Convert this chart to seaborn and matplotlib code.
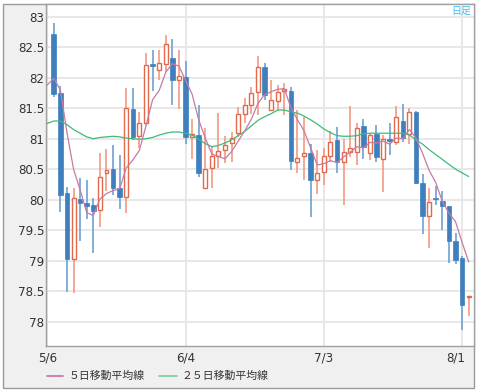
import numpy as np
import pandas as pd
import matplotlib
matplotlib.use("Agg")
import matplotlib.pyplot as plt
import matplotlib.transforms as mtransforms
import seaborn as sns
from matplotlib.patches import Rectangle
from matplotlib.lines import Line2D

sns.set_style("white")
plt.rcParams['font.family'] = ['DejaVu Sans']

# ---- data (daily OHLC, 5/7 .. 8/2) ----
opens = [82.72, 81.75, 80.11, 79.02, 80.01, 79.95, 79.91, 79.83, 80.44, 80.51,
         80.20, 80.05, 81.49, 81.04, 81.25, 82.22, 82.13, 82.22, 82.33, 81.97,
         82.01, 81.02, 81.06, 80.20, 80.52, 80.71, 80.81, 80.93, 81.10, 81.41,
         81.56, 81.76, 82.18, 81.47, 81.62, 81.78, 81.79, 80.61, 80.71, 80.76,
         80.33, 80.46, 80.71, 80.98, 80.62, 80.78, 80.78, 81.21, 80.76, 81.08,
         80.67, 80.99, 80.94, 81.29, 81.08, 81.43, 80.28, 79.73, 80.03, 79.98,
         79.90, 79.32, 79.05, 78.40]
highs = [82.90, 81.87, 80.21, 80.19, 80.35, 80.32, 80.02, 80.76, 80.83, 80.90,
         80.73, 81.83, 81.83, 81.44, 82.40, 82.46, 82.45, 82.70, 82.64, 82.46,
         82.28, 81.33, 81.56, 81.17, 80.88, 81.42, 81.04, 81.11, 81.52, 81.66,
         81.84, 82.35, 82.24, 81.96, 81.88, 81.91, 81.84, 81.47, 81.36, 80.91,
         80.81, 80.85, 81.12, 81.20, 81.00, 81.54, 81.25, 81.32, 81.10, 81.22,
         81.06, 81.25, 81.54, 81.57, 81.50, 81.45, 80.42, 80.19, 80.22, 80.14,
         79.90, 79.45, 79.07, 78.42]
lows = [81.69, 79.80, 78.49, 78.47, 79.33, 79.69, 79.12, 79.56, 80.15, 80.08,
        79.84, 79.78, 80.98, 80.85, 81.22, 81.78, 81.97, 82.10, 81.55, 81.48,
        80.91, 80.66, 80.38, 80.20, 80.20, 80.52, 80.60, 80.61, 81.02, 81.26,
        81.40, 81.39, 81.63, 81.45, 81.47, 81.39, 80.49, 80.43, 80.32, 79.72,
        80.10, 80.24, 80.62, 80.44, 79.91, 80.70, 80.57, 80.66, 80.65, 80.61,
        80.13, 80.73, 80.89, 80.94, 80.91, 80.26, 79.44, 79.21, 79.91, 79.51,
        78.96, 78.94, 77.87, 78.09]
closes = [81.74, 80.08, 79.02, 80.02, 79.95, 79.90, 79.81, 80.38, 80.48, 80.20,
          80.05, 81.51, 81.03, 81.26, 82.21, 82.19, 82.24, 82.55, 81.97, 82.02,
          81.03, 81.07, 80.44, 80.51, 80.72, 80.80, 80.89, 81.01, 81.40, 81.55,
          81.75, 82.18, 81.72, 81.63, 81.77, 81.81, 80.64, 80.69, 80.76, 80.33,
          80.43, 80.72, 80.94, 80.62, 80.78, 80.84, 81.17, 80.86, 81.06, 80.70,
          80.99, 80.96, 81.35, 81.01, 81.43, 80.28, 79.73, 79.96, 80.01, 79.89,
          79.32, 79.01, 78.28, 78.42]

# moving averages (first value = day before first candle)
ma5 = [81.88, 81.99, 81.80, 81.10, 80.50, 80.16, 79.79, 79.74, 80.01, 80.10,
       80.15, 80.18, 80.52, 80.65, 80.81, 81.21, 81.64, 81.79, 82.09, 82.23,
       82.19, 81.96, 81.73, 81.31, 81.01, 80.75, 80.71, 80.67, 80.79, 80.96,
       81.13, 81.32, 81.58, 81.72, 81.77, 81.81, 81.82, 81.51, 81.31, 81.13,
       80.85, 80.57, 80.59, 80.64, 80.61, 80.70, 80.78, 80.87, 80.85, 80.94,
       80.93, 80.96, 80.91, 81.01, 81.00, 81.15, 81.01, 80.76, 80.48, 80.28,
       79.97, 79.78, 79.64, 79.30, 78.98]
ma25 = [81.25, 81.29, 81.29, 81.23, 81.15, 81.09, 81.03, 81.00, 81.02, 81.03,
        81.04, 81.03, 81.01, 81.00, 80.99, 81.00, 81.02, 81.06, 81.09, 81.11,
        81.11, 81.09, 81.06, 80.99, 80.92, 80.87, 80.89, 80.93, 80.98, 81.05,
        81.12, 81.21, 81.30, 81.36, 81.41, 81.47, 81.47, 81.44, 81.42, 81.37,
        81.31, 81.24, 81.16, 81.10, 81.05, 81.04, 81.04, 81.05, 81.08, 81.09,
        81.09, 81.09, 81.09, 81.09, 81.09, 81.06, 80.98, 80.91, 80.82, 80.74,
        80.66, 80.58, 80.50, 80.44, 80.38]

tick_labels = ["5/6", "6/4", "7/3", "8/1"]
tick_days = [-1, 20, 41, 62]
y_ticks = [78, 78.5, 79, 79.5, 80, 80.5, 81, 81.5, 82, 82.5, 83]
legend_labels = ["５日移動平均線", "２５日移動平均線"]
badge = "日足"

# ---- figure ----
W, H = 478, 391
fig = plt.figure(figsize=(W / 100, H / 100), dpi=100)
fig.patch.set_facecolor("white")
fig.patches.append(Rectangle((3 / W, 1 - 388 / H), (473.5 - 3) / W, (388 - 4) / H,
                             transform=fig.transFigure, facecolor="#f0f0f0",
                             edgecolor="#9a9a9a", lw=1.0, zorder=-10))

ax = fig.add_axes([45.7 / W, 1 - 345.7 / H, (473.5 - 45.7) / W, (345.7 - 4) / H])
ax.set_zorder(1)
ax.set_facecolor("white")

o = np.array(opens); h = np.array(highs); l = np.array(lows); c = np.array(closes)
x = np.arange(len(c))
up = c >= o
dn = ~up

blue = "#3f7fbd"
blue_wick = "#78a8d4"
red = "#e26a4c"
red_wick = "#f2a18e"

ax.vlines(x[up], l[up], h[up], color=red_wick, lw=1.3, zorder=2)
ax.vlines(x[dn], l[dn], h[dn], color=blue_wick, lw=1.3, zorder=2)
ax.bar(x[up], np.maximum(c[up] - o[up], 0.015), bottom=o[up], width=0.6,
       facecolor="white", edgecolor=red, lw=1.0, zorder=3)
ax.bar(x[dn], np.maximum(o[dn] - c[dn], 0.015), bottom=c[dn], width=0.7,
       facecolor=blue, edgecolor=blue, lw=0.5, zorder=3)

ma_df = pd.DataFrame({"day": np.arange(len(ma5)) - 1, "ma5": ma5, "ma25": ma25})
sns.lineplot(data=ma_df, x="day", y="ma25", ax=ax, color="#3dbb78", lw=0.9, zorder=4)
sns.lineplot(data=ma_df, x="day", y="ma5", ax=ax, color="#c87aa4", lw=0.9, zorder=5)

ax.set_xlim(-1.23, 63.73)
ax.set_ylim(77.607, 83.208)
ax.set_yticks(y_ticks)
ax.set_yticklabels([f"{v:g}" for v in y_ticks])
ax.set_xticks(tick_days)
ax.set_xticklabels(tick_labels)
ax.set_xlabel("")
ax.set_ylabel("")
ax.grid(True, color="#e8e8e8", lw=1.5)
ax.set_axisbelow(True)
ax.tick_params(axis="both", length=0, labelsize=8.6, colors="#333333")
ax.tick_params(axis="y", pad=1.0)
ax.tick_params(axis="x", pad=4)
for s in ax.spines.values():
    s.set_color("#a0a0a0")
    s.set_linewidth(1.0)

# last date label sits a little left of its gridline in the reference
last = ax.get_xticklabels()[-1]
last.set_transform(last.get_transform() +
                   mtransforms.ScaledTranslation(-6 / 100, 0, fig.dpi_scale_trans))

# legend
cjk = ["Noto Sans CJK JP", "DejaVu Sans"]
ly = 1 - 376 / H
fig.add_artist(Line2D([46.7 / W, 62.7 / W], [ly, ly], color="#c87aa4", lw=1.3,
                      transform=fig.transFigure))
fig.text(69 / W, ly, legend_labels[0], va="center", ha="left", fontsize=7.8,
         family=cjk, color="#333333")
fig.add_artist(Line2D([159.3 / W, 176.7 / W], [ly, ly], color="#7fd3a8", lw=1.3,
                      transform=fig.transFigure))
fig.text(182 / W, ly, legend_labels[1], va="center", ha="left", fontsize=7.8,
         family=cjk, color="#333333")

fig.text(471 / W, 1 - 11 / H, badge, va="center", ha="right", fontsize=7.2,
         family=cjk, color="#3cbcf0")

fig.savefig("out.png", dpi=100)
